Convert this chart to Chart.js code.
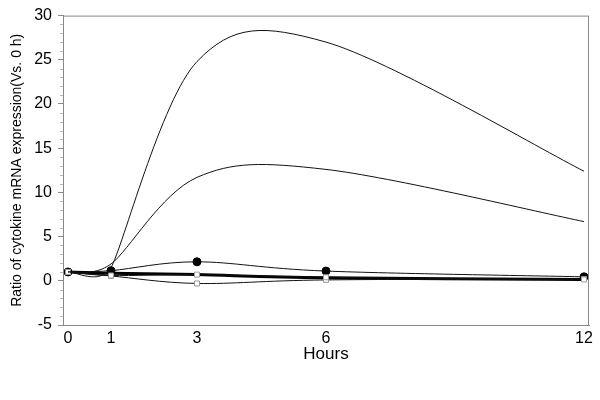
<!DOCTYPE html>
<html>
<head>
<meta charset="utf-8">
<script src="https://cdn.jsdelivr.net/npm/chart.js@4"></script>
<style>
  html, body { margin: 0; padding: 0; background: #fff; }
  #wrap { width: 600px; height: 400px; }
</style>
</head>
<body>
<div id="wrap"><canvas id="chart" width="600" height="400"></canvas></div>
<script>
// valores
const hours = [0, 1, 3, 6, 12];
const xTickLabels = [0, 1, 3, 6, 12];
const yMin = -5, yMax = 30, yStep = 5;

const bigCurve = [1, 1.5, 24.8, 27.0, 12.4];
const midCurve = [1, 1.9, 11.7, 12.6, 6.7];
const dotCurve = [1, 1.15, 2.15, 1.1, 0.45];
const squareCurveA = [1, 0.6, 0.7, 0.4, 0.15];
const squareCurveB = [1, 0.55, -0.3, 0.1, 0.2];
const thickCurve = [1, 0.85, 0.7, 0.35, 0.15];

function toPoints(values) {
  return hours.map((h, i) => ({ x: h, y: values[i] }));
}

// suavizacao no estilo Excel: tangente (P2-P0)/6, limitada a meia corda
const smoothPlugin = {
  id: 'smooth',
  beforeDatasetDraw(chart, args) {
    const meta = args.meta;
    const pts = meta.data;
    const n = pts.length;
    const dist = (a, b) => Math.hypot(b.x - a.x, b.y - a.y);
    for (let i = 0; i < n; i++) {
      const p0 = pts[Math.max(i - 1, 0)], p1 = pts[i], p2 = pts[Math.min(i + 1, n - 1)];
      const vx = p2.x - p0.x, vy = p2.y - p0.y;
      const d02 = Math.hypot(vx, vy) || 1;
      let f = 1 / 6;
      const dmin = Math.min(i > 0 ? dist(p0, p1) : Infinity, i < n - 1 ? dist(p1, p2) : Infinity);
      if (d02 * f > dmin / 2) f = dmin / 2 / d02;
      p1.cp1x = p1.x - vx * f; p1.cp1y = p1.y - vy * f;
      p1.cp2x = p1.x + vx * f; p1.cp2y = p1.y + vy * f;
    }
    meta.dataset._pointsUpdated = true;
    meta.dataset._path = undefined;
  }
};

// moldura cinza e marcas menores no eixo y
const framePlugin = {
  id: 'frame',
  afterDraw(chart) {
    const { ctx, chartArea: a, scales } = chart;
    ctx.save();
    ctx.strokeStyle = '#888';
    ctx.lineWidth = 1;
    ctx.strokeRect(a.left + 0.5, a.top + 0.5, a.right - a.left - 1, a.bottom - a.top);
    ctx.strokeStyle = '#bbb';
    for (let v = yMin; v <= yMax; v++) {
      if (v % yStep === 0) continue;
      const y = Math.round(scales.y.getPixelForValue(v)) + 0.5;
      ctx.beginPath();
      ctx.moveTo(a.left - 3, y);
      ctx.lineTo(a.left, y);
      ctx.stroke();
    }
    ctx.restore();
  }
};

const thin = { borderColor: '#111', borderWidth: 1, pointRadius: 0, fill: false, tension: 0.4 };
const squares = {
  pointRadius: 3.5, pointStyle: 'rect', pointBorderColor: '#999', pointBackgroundColor: '#fff', pointBorderWidth: 1
};

new Chart(document.getElementById('chart').getContext('2d'), {
  type: 'line',
  data: {
    datasets: [
      Object.assign({ label: 'big', data: toPoints(bigCurve) }, thin),
      Object.assign({ label: 'mid', data: toPoints(midCurve) }, thin),
      Object.assign({ label: 'sqA', data: toPoints(squareCurveA) }, thin, squares),
      Object.assign({ label: 'sqB', data: toPoints(squareCurveB) }, thin, squares),
      Object.assign({ label: 'thick', data: toPoints(thickCurve) }, thin, { borderWidth: 3, borderColor: '#000' }),
      Object.assign({ label: 'dots', data: toPoints(dotCurve) }, thin, {
        pointRadius: 4, pointStyle: 'circle', pointBorderColor: '#000', pointBackgroundColor: '#000'
      })
    ]
  },
  options: {
    responsive: false,
    animation: false,
    layout: { padding: { top: 8, right: 11, left: 0, bottom: 0 } },
    plugins: { legend: { display: false }, tooltip: { enabled: false } },
    scales: {
      x: {
        type: 'linear',
        min: -0.116,
        max: 12.116,
        afterBuildTicks(scale) {
          scale.ticks = xTickLabels.map(v => ({ value: v }));
        },
        afterFit(scale) { scale.height = 75; },
        grid: { display: true, drawOnChartArea: false, drawTicks: false, color: '#888' },
        border: { display: true, color: '#888' },
        ticks: { color: '#000', padding: 4, font: { family: 'Liberation Sans', size: 16 }, maxRotation: 0, autoSkip: false },
        title: { display: true, text: 'Hours', color: '#000', font: { family: 'Liberation Sans', size: 17 }, padding: { top: 0, bottom: 35 } }
      },
      y: {
        min: yMin,
        max: yMax,
        afterFit(scale) { scale.width = 63; },
        grid: { display: true, drawOnChartArea: false, drawTicks: true, tickLength: 5, color: '#888' },
        border: { display: true, color: '#888' },
        ticks: { stepSize: yStep, color: '#000', padding: 6, font: { family: 'Liberation Sans', size: 16 } },
        title: { display: true, text: 'Ratio of cytokine mRNA expression(Vs. 0 h)', color: '#000', font: { family: 'Liberation Sans', size: 14 }, padding: { top: 9, bottom: 0 } }
      }
    }
  },
  plugins: [smoothPlugin, framePlugin]
});
</script>
</body>
</html>
